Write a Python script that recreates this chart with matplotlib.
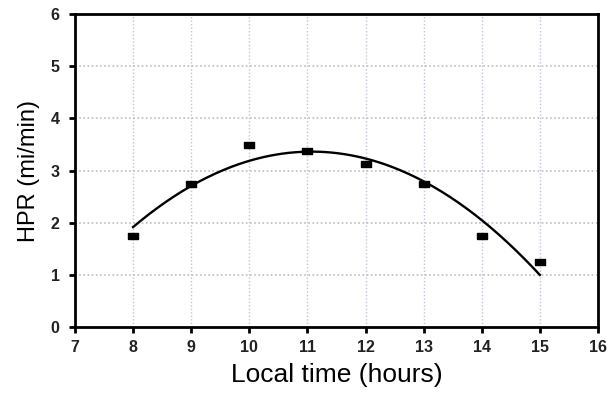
import numpy as np
import matplotlib
matplotlib.use("Agg")
import matplotlib.pyplot as plt

plt.rcParams['font.family'] = ['Liberation Sans', 'DejaVu Sans']

# measured points
hours = [8, 9, 10, 11, 12, 13, 14, 15]
hpr = [1.75, 2.75, 3.5, 3.38, 3.12, 2.75, 1.75, 1.25]

x_ticks = [7, 8, 9, 10, 11, 12, 13, 14, 15, 16]
y_ticks = [0, 1, 2, 3, 4, 5, 6]

# second order fit through the points
coef = np.polyfit(hours, hpr, 2)
xf = np.linspace(min(hours), max(hours), 200)
yf = np.polyval(coef, xf)

fig = plt.figure(figsize=(6.12, 3.94), dpi=100)
ax = fig.add_axes([0.1225, 0.170, 0.8545, 0.794])

ax.plot(xf, yf, color='black', lw=1.7, zorder=3)
rect = [(-1, -0.6), (1, -0.6), (1, 0.6), (-1, 0.6), (-1, -0.6)]
ax.plot(hours, hpr, ls='none', marker=rect, ms=7, color='black', zorder=4)

ax.set_xlim(7, 16)
ax.set_ylim(0, 6)
ax.set_xticks(x_ticks)
ax.set_yticks(y_ticks)

# dotted grid, only inside
for x in x_ticks[1:-1]:
    ax.axvline(x, color='#c4c4d8', lw=1, ls=(0, (1, 1.5)), zorder=1)
for y in y_ticks[1:-1]:
    ax.axhline(y, color='#bdbdbd', lw=1.2, ls=(0, (1, 1.5)), zorder=1)

for s in ax.spines.values():
    s.set_linewidth(2)
ax.tick_params(direction='out', length=4, width=2, labelsize=11.5)
ax.tick_params(axis='x', pad=5)
ax.tick_params(axis='y', pad=7)
for lbl in ax.get_xticklabels() + ax.get_yticklabels():
    lbl.set_fontweight('bold')
    lbl.set_color('#222222')

ax.set_xlabel('Local time (hours)', fontsize=19, labelpad=6)
ax.set_ylabel('HPR (mi/min)', fontsize=17, labelpad=8)

fig.savefig('out.png', dpi=100)
